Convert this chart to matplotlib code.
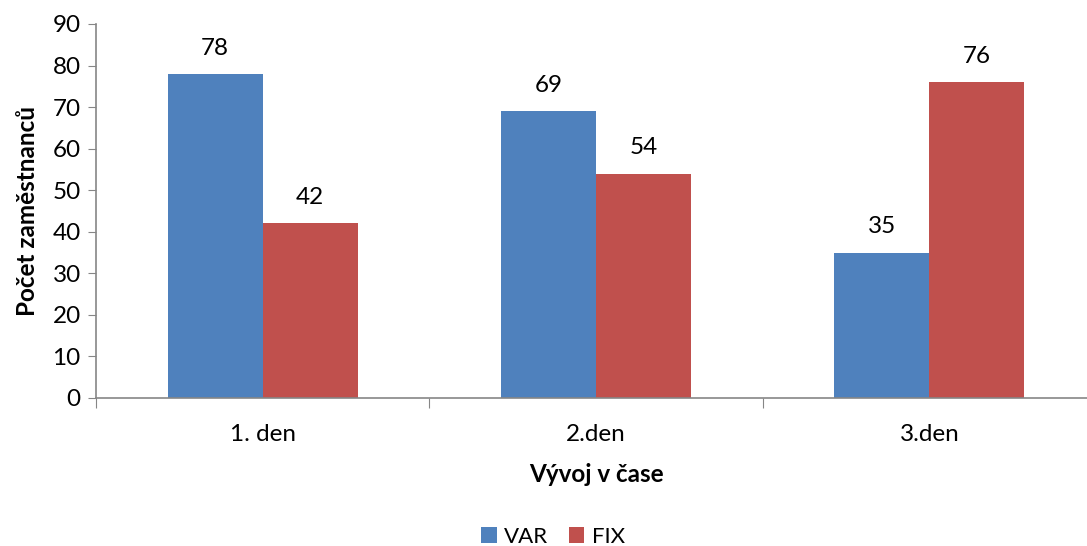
import numpy as np
import matplotlib.pyplot as plt

plt.rcParams['font.family'] = ['Lato', 'DejaVu Sans']

# Data
dny = ["1. den", "2.den", "3.den"]
var_hodnoty = [78, 69, 35]
fix_hodnoty = [42, 54, 76]
y_ticks = np.arange(0, 91, 10)

modra = "#4F81BD"
cervena = "#C0504D"
seda = "#868686"
fs = 17.5

fig = plt.figure(figsize=(10.87, 5.46), dpi=100)
ax = fig.add_axes([96/1087, 148/546, 1000/1087, 374/546])

x = np.arange(len(dny)) + 0.5
w = 0.285

b1 = ax.bar(x - w/2, var_hodnoty, w, color=modra, label="VAR")
b2 = ax.bar(x + w/2, fix_hodnoty, w, color=cervena, label="FIX")

for bars in (b1, b2):
    for b in bars:
        ax.annotate(str(int(b.get_height())),
                    (b.get_x() + b.get_width()/2, b.get_height()),
                    xytext=(0, 11), textcoords="offset points",
                    ha="center", va="bottom", fontsize=fs)

ax.set_xlim(0, 3)
ax.set_ylim(0, 90)
ax.set_yticks(y_ticks)
ax.tick_params(axis="y", labelsize=fs, length=6, color=seda, pad=5)

# category boundaries as ticks, labels in the middle
ax.set_xticks(np.arange(0, 4))
ax.set_xticklabels([])
ax.set_xticks(x, minor=True)
ax.set_xticklabels(dny, minor=True, fontsize=fs)
ax.tick_params(axis="x", which="major", length=7, color=seda)
ax.tick_params(axis="x", which="minor", length=0, pad=19)

for s in ("top", "right"):
    ax.spines[s].set_visible(False)
for s in ("left", "bottom"):
    ax.spines[s].set_color(seda)
    ax.spines[s].set_linewidth(1.2)

ax.set_ylabel("Počet zaměstnanců", fontsize=fs, fontweight="bold", labelpad=10)
ax.set_xlabel("Vývoj v čase", fontsize=fs, fontweight="bold", labelpad=13)

fig.legend(handles=[b1, b2], loc="center", bbox_to_anchor=(553/1087, 9/546),
           ncol=2, frameon=False, fontsize=16, handlelength=0.7,
           handleheight=0.7, handletextpad=0.35, columnspacing=0.9)

fig.savefig("out.png", dpi=100)
